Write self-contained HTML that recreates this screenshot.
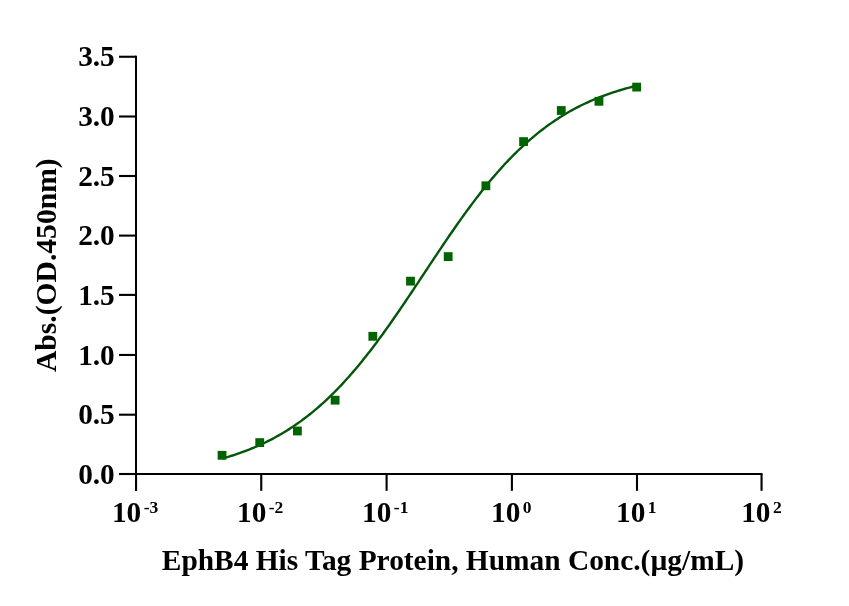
<!DOCTYPE html>
<html><head><meta charset="utf-8"><style>
html,body{margin:0;padding:0;background:#fff;}
svg{display:block;will-change:transform;}
text{font-family:"Liberation Serif","Times New Roman",serif;font-weight:bold;fill:#000;}
</style></head><body>
<svg width="849" height="606" viewBox="0 0 849 606">
<rect width="849" height="606" fill="#fff"/>
<g fill="#000">
<rect x="135" y="55.7" width="2" height="435.3"/>
<rect x="135" y="473" width="627.5" height="2"/>
<rect x="119" y="472.95" width="17" height="2.1"/>
<rect x="119" y="413.65" width="17" height="2.1"/>
<rect x="119" y="353.90" width="17" height="2.1"/>
<rect x="119" y="293.85" width="17" height="2.1"/>
<rect x="119" y="234.55" width="17" height="2.1"/>
<rect x="119" y="174.95" width="17" height="2.1"/>
<rect x="119" y="115.45" width="17" height="2.1"/>
<rect x="119" y="55.70" width="17" height="2.1"/>
<rect x="135.00" y="474" width="2.1" height="16.8"/>
<rect x="260.20" y="474" width="2.1" height="16.8"/>
<rect x="385.55" y="474" width="2.1" height="16.8"/>
<rect x="510.85" y="474" width="2.1" height="16.8"/>
<rect x="635.95" y="474" width="2.1" height="16.8"/>
<rect x="760.50" y="474" width="2.1" height="16.8"/>
</g>
<text x="114.8" y="483.70" font-size="29.33" text-anchor="end">0.0</text>
<text x="114.8" y="424.40" font-size="29.33" text-anchor="end">0.5</text>
<text x="114.8" y="364.65" font-size="29.33" text-anchor="end">1.0</text>
<text x="114.8" y="304.60" font-size="29.33" text-anchor="end">1.5</text>
<text x="114.8" y="245.30" font-size="29.33" text-anchor="end">2.0</text>
<text x="114.8" y="185.70" font-size="29.33" text-anchor="end">2.5</text>
<text x="114.8" y="126.20" font-size="29.33" text-anchor="end">3.0</text>
<text x="114.8" y="66.45" font-size="29.33" text-anchor="end">3.5</text>
<text x="111.90" y="522.2" font-size="29.33">10<tspan font-size="17.5" dx="2.4" dy="-9.4">-3</tspan></text>
<text x="237.00" y="522.2" font-size="29.33">10<tspan font-size="17.5" dx="2.4" dy="-9.4">-2</tspan></text>
<text x="362.10" y="522.2" font-size="29.33">10<tspan font-size="17.5" dx="2.4" dy="-9.4">-1</tspan></text>
<text x="491.00" y="522.2" font-size="29.33">10<tspan font-size="17.5" dx="2.4" dy="-9.4">0</tspan></text>
<text x="616.10" y="522.2" font-size="29.33">10<tspan font-size="17.5" dx="2.4" dy="-9.4">1</tspan></text>
<text x="741.20" y="522.2" font-size="29.33">10<tspan font-size="17.5" dx="2.4" dy="-9.4">2</tspan></text>
<text x="161.8" y="569.6" font-size="29.4">EphB4 His Tag Protein, Human Conc.(µg/mL)</text>
<text transform="translate(56.4,265.2) rotate(-90)" font-size="29.6" text-anchor="middle">Abs.(OD.450nm)</text>
<polyline points="222.04,458.62 224.12,458.03 226.21,457.43 228.29,456.80 230.37,456.17 232.46,455.51 234.54,454.83 236.62,454.14 238.71,453.43 240.79,452.69 242.87,451.94 244.96,451.17 247.04,450.38 249.12,449.56 251.21,448.73 253.29,447.87 255.37,446.99 257.46,446.08 259.54,445.15 261.62,444.20 263.71,443.22 265.79,442.22 267.87,441.19 269.96,440.14 272.04,439.06 274.13,437.95 276.21,436.81 278.29,435.65 280.38,434.46 282.46,433.24 284.54,431.99 286.63,430.70 288.71,429.39 290.79,428.05 292.88,426.68 294.96,425.27 297.04,423.83 299.13,422.36 301.21,420.86 303.29,419.32 305.38,417.75 307.46,416.14 309.54,414.50 311.63,412.82 313.71,411.11 315.79,409.37 317.88,407.58 319.96,405.76 322.05,403.91 324.13,402.02 326.21,400.09 328.30,398.12 330.38,396.12 332.46,394.08 334.55,392.00 336.63,389.89 338.71,387.74 340.80,385.55 342.88,383.32 344.96,381.06 347.05,378.76 349.13,376.43 351.21,374.05 353.30,371.65 355.38,369.20 357.46,366.72 359.55,364.21 361.63,361.66 363.71,359.08 365.80,356.46 367.88,353.82 369.97,351.14 372.05,348.43 374.13,345.68 376.22,342.91 378.30,340.11 380.38,337.28 382.47,334.43 384.55,331.54 386.63,328.64 388.72,325.70 390.80,322.75 392.88,319.77 394.97,316.78 397.05,313.76 399.13,310.73 401.22,307.67 403.30,304.61 405.38,301.52 407.47,298.43 409.55,295.32 411.63,292.21 413.72,289.08 415.80,285.95 417.89,282.81 419.97,279.67 422.05,276.52 424.14,273.38 426.22,270.23 428.30,267.09 430.39,263.94 432.47,260.81 434.55,257.67 436.64,254.55 438.72,251.43 440.80,248.33 442.89,245.24 444.97,242.16 447.05,239.09 449.14,236.04 451.22,233.01 453.30,229.99 455.39,227.00 457.47,224.03 459.55,221.07 461.64,218.14 463.72,215.24 465.81,212.36 467.89,209.51 469.97,206.68 472.06,203.88 474.14,201.12 476.22,198.38 478.31,195.67 480.39,192.99 482.47,190.35 484.56,187.74 486.64,185.16 488.72,182.61 490.81,180.10 492.89,177.63 494.97,175.19 497.06,172.78 499.14,170.42 501.22,168.08 503.31,165.79 505.39,163.53 507.47,161.31 509.56,159.13 511.64,156.98 513.72,154.87 515.81,152.79 517.89,150.76 519.98,148.76 522.06,146.80 524.14,144.87 526.23,142.99 528.31,141.14 530.39,139.32 532.48,137.54 534.56,135.80 536.64,134.09 538.73,132.42 540.81,130.78 542.89,129.18 544.98,127.61 547.06,126.08 549.14,124.58 551.23,123.11 553.31,121.68 555.39,120.27 557.48,118.90 559.56,117.56 561.64,116.26 563.73,114.98 565.81,113.73 567.90,112.51 569.98,111.32 572.06,110.16 574.15,109.03 576.23,107.92 578.31,106.85 580.40,105.80 582.48,104.77 584.56,103.77 586.65,102.80 588.73,101.85 590.81,100.92 592.90,100.02 594.98,99.14 597.06,98.28 599.15,97.45 601.23,96.64 603.31,95.85 605.40,95.08 607.48,94.33 609.56,93.60 611.65,92.89 613.73,92.19 615.82,91.52 617.90,90.87 619.98,90.23 622.07,89.61 624.15,89.01 626.23,88.42 628.32,87.85 630.40,87.29 632.48,86.75 634.57,86.23 636.65,85.72" fill="none" stroke="#03560a" stroke-width="2.4" stroke-linejoin="round"/>
<rect x="217.64" y="450.90" width="8.8" height="8.8" fill="#006400"/>
<rect x="255.33" y="438.20" width="8.8" height="8.8" fill="#006400"/>
<rect x="293.02" y="426.60" width="8.8" height="8.8" fill="#006400"/>
<rect x="330.71" y="395.80" width="8.8" height="8.8" fill="#006400"/>
<rect x="368.41" y="331.90" width="8.8" height="8.8" fill="#006400"/>
<rect x="406.10" y="276.75" width="8.8" height="8.8" fill="#006400"/>
<rect x="443.79" y="252.20" width="8.8" height="8.8" fill="#006400"/>
<rect x="481.48" y="181.40" width="8.8" height="8.8" fill="#006400"/>
<rect x="519.17" y="137.20" width="8.8" height="8.8" fill="#006400"/>
<rect x="556.87" y="106.10" width="8.8" height="8.8" fill="#006400"/>
<rect x="594.56" y="96.90" width="8.8" height="8.8" fill="#006400"/>
<rect x="632.25" y="82.70" width="8.8" height="8.8" fill="#006400"/>
</svg></body></html>
